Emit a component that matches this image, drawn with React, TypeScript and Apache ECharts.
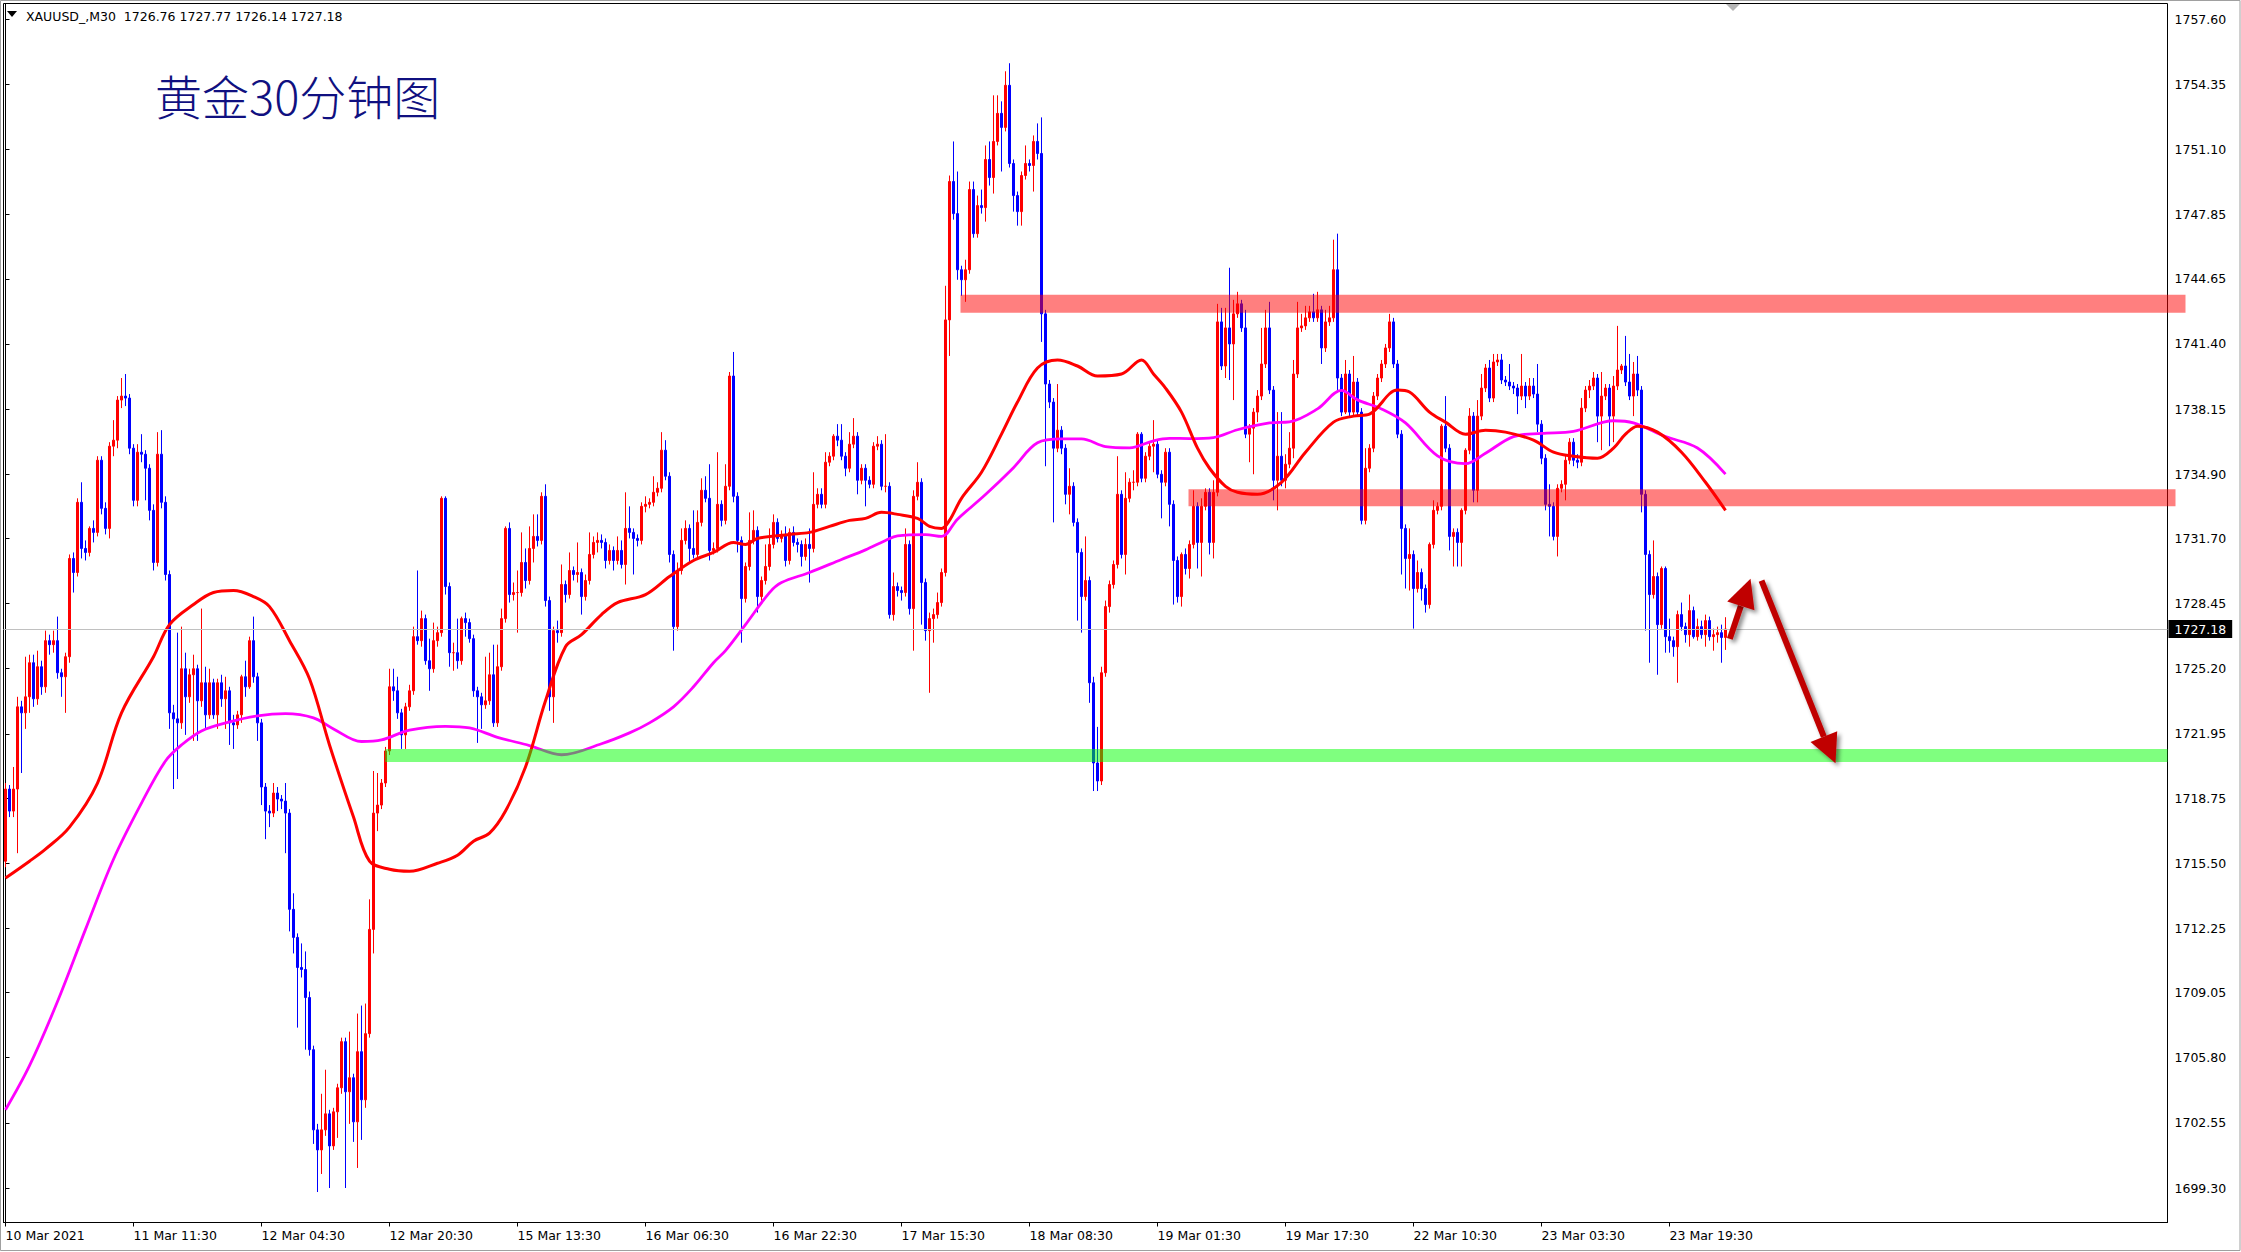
import React, { useEffect, useRef } from "react";
import * as echarts from "echarts";

type Candle = [number, number, number, number]; // open, close, low, high

// 10 Mar 19:30 – 12 Mar 11:30
const candlesA: Candle[] = [
  [1715.6, 1719.2, 1715.3, 1719.5], [1719.2, 1718.1, 1717.8, 1719.4], [1718.1, 1719.2, 1717.8, 1720.3], [1719.2, 1723.3, 1716.0, 1723.8],
  [1723.3, 1723.0, 1720.0, 1723.6], [1723.0, 1723.8, 1722.2, 1725.8], [1723.8, 1725.5, 1723.0, 1725.9], [1725.5, 1723.7, 1723.3, 1725.9],
  [1723.7, 1725.3, 1723.4, 1726.1], [1725.3, 1724.3, 1723.9, 1725.6], [1724.3, 1726.6, 1724.0, 1727.1], [1726.6, 1726.4, 1725.9, 1726.9],
  [1726.4, 1726.6, 1726.0, 1727.1], [1726.6, 1725.0, 1724.7, 1727.8], [1725.0, 1724.8, 1723.8, 1725.2], [1724.8, 1725.8, 1723.0, 1726.0],
  [1725.8, 1730.7, 1725.5, 1730.9], [1730.7, 1730.0, 1729.0, 1731.0], [1730.0, 1733.5, 1729.8, 1733.7], [1733.5, 1731.2, 1730.7, 1734.5],
  [1731.2, 1731.0, 1730.6, 1731.6], [1731.0, 1732.2, 1730.8, 1732.3], [1732.2, 1732.0, 1731.5, 1732.6], [1732.0, 1735.6, 1731.8, 1735.8],
  [1735.6, 1733.2, 1732.9, 1735.8], [1733.2, 1732.2, 1731.9, 1733.5], [1732.2, 1736.3, 1731.7, 1736.5], [1736.3, 1736.6, 1735.8, 1737.6],
  [1736.6, 1738.6, 1736.2, 1738.8], [1738.6, 1738.8, 1738.2, 1739.7], [1738.8, 1738.7, 1738.3, 1739.9], [1738.7, 1736.2, 1735.9, 1738.9],
  [1736.2, 1733.6, 1733.3, 1736.4], [1733.6, 1736.0, 1733.3, 1736.4], [1736.0, 1735.9, 1735.5, 1736.9], [1735.9, 1735.2, 1733.6, 1736.1],
  [1735.2, 1733.1, 1732.6, 1735.4], [1733.1, 1730.5, 1730.1, 1733.4], [1730.5, 1735.9, 1730.3, 1737.0], [1735.9, 1733.5, 1733.2, 1737.1],
  [1733.5, 1729.9, 1729.6, 1733.8], [1729.9, 1723.0, 1722.2, 1730.1], [1723.0, 1722.7, 1719.2, 1723.4], [1722.7, 1722.5, 1719.7, 1727.0],
  [1722.5, 1725.2, 1722.2, 1727.3], [1725.2, 1723.8, 1721.9, 1726.0], [1723.8, 1724.9, 1723.5, 1725.2], [1724.9, 1725.2, 1721.6, 1725.9],
  [1725.2, 1723.6, 1721.6, 1725.4], [1723.6, 1724.5, 1723.3, 1728.2], [1724.5, 1722.9, 1722.2, 1725.3], [1722.9, 1724.5, 1722.7, 1725.2],
  [1724.5, 1722.9, 1722.7, 1724.7], [1722.9, 1724.5, 1722.2, 1724.7], [1724.5, 1723.7, 1723.3, 1724.9], [1723.7, 1724.1, 1722.2, 1724.8],
  [1724.1, 1722.5, 1721.4, 1724.3], [1722.5, 1722.4, 1721.2, 1722.9], [1722.4, 1722.9, 1722.2, 1723.1], [1722.9, 1724.8, 1722.5, 1724.9],
  [1724.8, 1724.3, 1723.8, 1725.6], [1724.3, 1726.6, 1724.2, 1726.8], [1726.6, 1724.8, 1724.5, 1727.8], [1724.8, 1722.5, 1721.6, 1725.0],
  [1722.5, 1719.3, 1718.4, 1722.7], [1719.3, 1718.1, 1716.7, 1719.5], [1718.1, 1718.0, 1717.3, 1718.4], [1718.0, 1719.0, 1717.8, 1719.5],
  [1719.0, 1718.7, 1718.1, 1719.3], [1718.7, 1718.6, 1718.2, 1718.9], [1718.6, 1718.0, 1716.0, 1719.5], [1718.0, 1713.2, 1712.1, 1718.2],
];

// 12 Mar 12:00 – 15 Mar
const candlesB: Candle[] = [
  [1713.2, 1711.8, 1711.0, 1714.0], [1711.8, 1710.3, 1707.3, 1712.0], [1710.3, 1710.2, 1709.8, 1711.5], [1710.2, 1708.8, 1706.2, 1711.1],
  [1708.8, 1706.2, 1705.9, 1709.1], [1706.2, 1702.2, 1701.5, 1706.4], [1702.2, 1701.2, 1699.1, 1702.5], [1701.2, 1702.2, 1700.0, 1704.0],
  [1702.2, 1703.0, 1701.9, 1705.2], [1703.0, 1701.4, 1699.3, 1703.2], [1701.4, 1703.1, 1701.2, 1703.3], [1703.1, 1704.3, 1701.8, 1704.5],
  [1704.3, 1706.6, 1704.0, 1706.8], [1706.6, 1704.1, 1699.3, 1706.8], [1704.1, 1704.8, 1702.5, 1707.1], [1704.8, 1702.6, 1701.6, 1705.0],
  [1702.6, 1706.1, 1700.3, 1708.0], [1706.1, 1703.7, 1701.7, 1708.4], [1703.7, 1707.0, 1703.3, 1708.5], [1707.0, 1712.2, 1706.8, 1713.7],
  [1712.2, 1718.0, 1711.0, 1720.1], [1718.0, 1718.4, 1717.1, 1720.0], [1718.4, 1719.5, 1718.2, 1719.7], [1719.5, 1721.1, 1719.3, 1721.3],
  [1721.1, 1724.3, 1720.9, 1725.2], [1724.3, 1724.1, 1723.6, 1725.2], [1724.1, 1723.0, 1722.7, 1724.8], [1723.0, 1721.9, 1721.2, 1723.2],
  [1721.9, 1723.3, 1721.2, 1723.5], [1723.3, 1724.1, 1723.1, 1724.4], [1724.1, 1726.8, 1723.9, 1727.3], [1726.8, 1726.6, 1726.4, 1730.1],
  [1726.6, 1727.7, 1726.3, 1728.1], [1727.7, 1725.6, 1725.4, 1727.9], [1725.6, 1725.2, 1724.1, 1726.7], [1725.2, 1726.6, 1725.0, 1727.5],
  [1726.6, 1727.0, 1726.3, 1727.3], [1727.0, 1733.7, 1726.8, 1733.8], [1733.7, 1729.3, 1728.9, 1733.8], [1729.3, 1726.0, 1725.3, 1729.5],
  [1726.0, 1726.0, 1725.1, 1726.5], [1726.0, 1725.6, 1725.2, 1727.7], [1725.6, 1727.7, 1725.4, 1727.8], [1727.7, 1727.5, 1726.8, 1728.0],
  [1727.5, 1726.7, 1726.5, 1727.7], [1726.7, 1724.1, 1723.8, 1726.9], [1724.1, 1723.8, 1721.5, 1724.3], [1723.8, 1723.4, 1722.2, 1724.0],
  [1723.4, 1723.6, 1723.2, 1725.8], [1723.6, 1724.9, 1723.4, 1726.0], [1724.9, 1722.5, 1722.3, 1726.4], [1722.5, 1725.3, 1722.3, 1726.4],
  [1725.3, 1727.7, 1725.1, 1728.2], [1727.7, 1732.2, 1727.5, 1732.3], [1732.2, 1728.9, 1728.5, 1732.5], [1728.9, 1729.0, 1728.6, 1729.5],
  [1729.0, 1729.0, 1727.0, 1730.1], [1729.0, 1730.5, 1728.8, 1732.0], [1730.5, 1729.6, 1729.2, 1731.2], [1729.6, 1731.2, 1729.4, 1732.3],
  [1731.2, 1731.8, 1730.5, 1732.9], [1731.8, 1731.6, 1731.3, 1732.9], [1731.6, 1733.8, 1731.4, 1734.0], [1733.8, 1728.6, 1728.3, 1734.4],
  [1728.6, 1723.8, 1723.1, 1728.8], [1723.8, 1727.1, 1722.5, 1727.3], [1727.1, 1727.0, 1726.5, 1727.6], [1727.0, 1729.4, 1726.8, 1730.4],
  [1729.4, 1728.9, 1728.5, 1729.6], [1728.9, 1730.1, 1728.7, 1731.0], [1730.1, 1729.9, 1729.6, 1730.3], [1729.9, 1730.0, 1729.5, 1731.5],
];

// 16 Mar
const candlesC: Candle[] = [
  [1730.0, 1728.8, 1727.9, 1730.2], [1728.8, 1729.6, 1728.6, 1729.9], [1729.6, 1730.9, 1729.4, 1732.0], [1730.9, 1731.5, 1730.7, 1731.8],
  [1731.5, 1731.6, 1731.0, 1732.0], [1731.6, 1731.5, 1731.2, 1731.9], [1731.5, 1730.6, 1730.2, 1731.7], [1730.6, 1731.1, 1730.4, 1731.4],
  [1731.1, 1730.6, 1730.1, 1731.3], [1730.6, 1731.1, 1730.4, 1731.8], [1731.1, 1730.4, 1730.2, 1731.6], [1730.4, 1732.2, 1729.4, 1734.0],
  [1732.2, 1732.0, 1731.7, 1733.3], [1732.0, 1731.7, 1729.9, 1732.2], [1731.7, 1731.6, 1731.3, 1731.9], [1731.6, 1733.3, 1731.4, 1733.5],
  [1733.3, 1733.4, 1733.0, 1733.8], [1733.4, 1733.5, 1733.2, 1733.7], [1733.5, 1734.0, 1733.3, 1734.8], [1734.0, 1734.2, 1733.8, 1734.5],
  [1734.2, 1736.1, 1734.0, 1737.0], [1736.1, 1734.8, 1734.6, 1736.6], [1734.8, 1730.9, 1730.5, 1735.0], [1730.9, 1727.3, 1726.1, 1731.1],
  [1727.3, 1730.1, 1727.1, 1730.5], [1730.1, 1731.6, 1729.9, 1732.2], [1731.6, 1732.2, 1731.4, 1732.6], [1732.2, 1731.2, 1730.5, 1732.4],
  [1731.2, 1730.9, 1730.7, 1733.1], [1730.9, 1732.5, 1730.7, 1733.1], [1732.5, 1734.1, 1732.3, 1734.7], [1734.1, 1733.7, 1733.5, 1734.8],
  [1733.7, 1731.1, 1730.6, 1735.4], [1731.1, 1731.2, 1730.9, 1731.5], [1731.2, 1733.4, 1731.0, 1736.0], [1733.4, 1732.6, 1732.3, 1733.6],
  [1732.6, 1734.3, 1732.4, 1735.4], [1734.3, 1739.8, 1734.1, 1740.0], [1739.8, 1733.8, 1733.5, 1741.0], [1733.8, 1731.6, 1731.0, 1734.0],
  [1731.6, 1728.7, 1726.5, 1731.8], [1728.7, 1730.3, 1728.5, 1730.5], [1730.3, 1731.6, 1730.1, 1733.0], [1731.6, 1732.1, 1731.4, 1733.1],
  [1732.1, 1728.8, 1728.0, 1732.3], [1728.8, 1729.6, 1728.6, 1729.8], [1729.6, 1730.3, 1729.4, 1731.4], [1730.3, 1731.4, 1730.1, 1732.2],
  [1731.4, 1732.5, 1731.2, 1732.9], [1732.5, 1731.7, 1731.5, 1732.7], [1731.7, 1731.9, 1731.5, 1732.1], [1731.9, 1730.6, 1730.3, 1732.3],
  [1730.6, 1732.0, 1730.4, 1732.2], [1732.0, 1731.5, 1731.3, 1732.3], [1731.5, 1731.4, 1731.0, 1731.7], [1731.4, 1730.8, 1730.3, 1731.6],
  [1730.8, 1731.4, 1730.6, 1731.7], [1731.4, 1731.2, 1729.5, 1732.2], [1731.2, 1733.4, 1731.0, 1735.0], [1733.4, 1733.9, 1733.2, 1734.2],
  [1733.9, 1733.4, 1733.2, 1734.2], [1733.4, 1735.5, 1733.2, 1736.0], [1735.5, 1735.8, 1735.3, 1736.0], [1735.8, 1736.8, 1735.6, 1736.9],
  [1736.8, 1736.6, 1736.3, 1737.4], [1736.6, 1735.8, 1735.6, 1737.4], [1735.8, 1735.2, 1734.8, 1736.0], [1735.2, 1736.4, 1735.0, 1737.0],
  [1736.4, 1736.8, 1736.2, 1737.7], [1736.8, 1734.6, 1733.9, 1737.0], [1734.6, 1735.2, 1734.4, 1735.4], [1735.2, 1734.6, 1733.3, 1735.4],
];

// 17 Mar – 18 Mar
const candlesD: Candle[] = [
  [1734.6, 1734.4, 1734.2, 1734.8], [1734.4, 1736.3, 1734.2, 1736.5], [1736.3, 1736.4, 1736.1, 1736.8], [1736.4, 1734.3, 1734.1, 1736.6],
  [1734.3, 1734.3, 1734.0, 1736.9], [1734.3, 1727.9, 1727.7, 1734.5], [1727.9, 1729.3, 1727.6, 1730.0], [1729.3, 1729.1, 1728.8, 1729.5],
  [1729.1, 1729.0, 1728.6, 1729.3], [1729.0, 1731.4, 1728.8, 1732.2], [1731.4, 1728.2, 1727.9, 1731.6], [1728.2, 1733.8, 1726.1, 1734.1],
  [1733.8, 1734.5, 1733.6, 1735.5], [1734.5, 1729.5, 1727.4, 1734.7], [1729.5, 1727.1, 1726.6, 1729.7], [1727.1, 1727.7, 1724.0, 1728.0],
  [1727.7, 1727.9, 1726.5, 1728.2], [1727.9, 1728.5, 1727.7, 1729.0], [1728.5, 1730.0, 1728.3, 1730.2], [1730.0, 1742.6, 1729.8, 1744.3],
  [1742.6, 1749.5, 1740.8, 1749.8], [1749.5, 1747.9, 1747.6, 1751.5], [1747.9, 1745.1, 1744.6, 1750.0], [1745.1, 1744.6, 1743.8, 1745.3],
  [1744.6, 1745.1, 1743.5, 1745.6], [1745.1, 1749.1, 1744.9, 1749.5], [1749.1, 1746.9, 1746.7, 1749.5], [1746.9, 1748.3, 1746.7, 1748.8],
  [1748.3, 1748.2, 1747.9, 1749.1], [1748.2, 1750.6, 1747.5, 1751.3], [1750.6, 1749.7, 1749.3, 1751.5], [1749.7, 1751.5, 1748.9, 1753.8],
  [1751.5, 1752.9, 1751.3, 1753.8], [1752.9, 1752.2, 1750.0, 1753.5], [1752.2, 1754.3, 1752.0, 1755.0], [1754.3, 1750.4, 1750.2, 1755.4],
  [1750.4, 1748.8, 1748.0, 1750.6], [1748.8, 1748.0, 1747.3, 1749.0], [1748.0, 1749.8, 1747.3, 1750.0], [1749.8, 1750.4, 1749.6, 1751.3],
  [1750.4, 1750.3, 1750.0, 1750.6], [1750.3, 1751.5, 1749.0, 1751.8], [1751.5, 1750.9, 1750.6, 1752.4], [1750.9, 1742.9, 1741.5, 1752.7],
  [1742.9, 1739.4, 1735.3, 1743.1], [1739.4, 1738.5, 1738.2, 1739.6], [1738.5, 1736.2, 1732.5, 1738.7], [1736.2, 1737.1, 1736.0, 1739.4],
  [1737.1, 1736.2, 1735.9, 1737.3], [1736.2, 1733.9, 1733.4, 1736.4], [1733.9, 1734.3, 1732.9, 1735.2], [1734.3, 1732.5, 1732.3, 1734.5],
  [1732.5, 1731.0, 1727.6, 1732.7], [1731.0, 1728.8, 1727.0, 1731.2], [1728.8, 1729.6, 1728.6, 1731.8], [1729.6, 1724.5, 1723.5, 1729.8],
  [1724.5, 1720.5, 1719.1, 1724.8], [1720.5, 1719.6, 1719.1, 1722.3], [1719.6, 1725.0, 1719.4, 1725.3], [1725.0, 1728.3, 1724.8, 1728.6],
  [1728.3, 1729.4, 1728.0, 1729.6], [1729.4, 1730.4, 1729.2, 1730.6], [1730.4, 1733.9, 1730.2, 1735.8], [1733.9, 1730.9, 1730.7, 1734.1],
  [1730.9, 1733.7, 1729.9, 1735.0], [1733.7, 1734.5, 1733.5, 1734.7], [1734.5, 1734.5, 1734.1, 1735.1], [1734.5, 1736.9, 1734.3, 1737.0],
  [1736.9, 1734.7, 1734.5, 1737.0], [1734.7, 1735.8, 1734.5, 1736.0], [1735.8, 1736.3, 1735.6, 1736.5], [1736.3, 1736.4, 1735.0, 1737.6],
];

// 19 Mar – 22 Mar
const candlesE: Candle[] = [
  [1736.4, 1734.9, 1734.7, 1736.6], [1734.9, 1734.5, 1732.7, 1735.1], [1734.5, 1736.0, 1734.3, 1736.2], [1736.0, 1733.4, 1732.3, 1736.2],
  [1733.4, 1730.6, 1728.4, 1733.6], [1730.6, 1728.8, 1728.5, 1730.8], [1728.8, 1730.9, 1728.3, 1731.0], [1730.9, 1730.2, 1729.9, 1731.2],
  [1730.2, 1731.4, 1729.7, 1731.6], [1731.4, 1733.3, 1731.2, 1734.1], [1733.3, 1731.5, 1730.2, 1733.5], [1731.5, 1733.3, 1729.8, 1733.7],
  [1733.3, 1734.0, 1733.1, 1734.2], [1734.0, 1731.5, 1730.9, 1734.2], [1731.5, 1734.0, 1730.7, 1734.6], [1734.0, 1742.5, 1733.8, 1743.4],
  [1742.5, 1740.3, 1740.1, 1743.2], [1740.3, 1742.2, 1739.7, 1743.2], [1742.2, 1741.4, 1739.6, 1745.2], [1741.4, 1742.9, 1738.6, 1743.6],
  [1742.9, 1743.4, 1742.7, 1744.0], [1743.4, 1742.2, 1742.0, 1743.6], [1742.2, 1736.9, 1736.7, 1743.1], [1736.9, 1737.2, 1735.5, 1737.4],
  [1737.2, 1738.0, 1734.9, 1738.2], [1738.0, 1738.8, 1737.5, 1739.1], [1738.8, 1740.4, 1738.6, 1742.2], [1740.4, 1742.2, 1740.2, 1743.1],
  [1742.2, 1739.1, 1738.9, 1743.5], [1739.1, 1734.6, 1733.6, 1739.3], [1734.6, 1735.8, 1733.1, 1738.0], [1735.8, 1734.6, 1734.3, 1738.0],
  [1734.6, 1735.4, 1734.2, 1735.9], [1735.4, 1736.2, 1735.2, 1737.0], [1736.2, 1739.9, 1735.7, 1740.6], [1739.9, 1742.2, 1739.7, 1743.5],
  [1742.2, 1742.3, 1742.0, 1742.9], [1742.3, 1742.7, 1742.1, 1743.3], [1742.7, 1743.0, 1742.5, 1743.3], [1743.0, 1742.7, 1742.5, 1743.9],
  [1742.7, 1743.1, 1742.5, 1744.0], [1743.1, 1741.2, 1740.4, 1743.3], [1741.2, 1742.5, 1741.0, 1743.1], [1742.5, 1742.7, 1742.3, 1743.3],
  [1742.7, 1745.1, 1742.5, 1746.6], [1745.1, 1739.7, 1739.1, 1746.9], [1739.7, 1738.0, 1737.8, 1739.9], [1738.0, 1739.9, 1737.9, 1740.6],
  [1739.9, 1738.0, 1737.8, 1740.1], [1738.0, 1739.5, 1737.8, 1740.8], [1739.5, 1738.0, 1737.8, 1739.7], [1738.0, 1732.6, 1732.4, 1738.2],
  [1732.6, 1735.2, 1732.4, 1736.2], [1735.2, 1736.2, 1735.0, 1736.4], [1736.2, 1738.8, 1736.0, 1739.0], [1738.8, 1739.7, 1738.6, 1739.9],
  [1739.7, 1740.4, 1739.5, 1740.6], [1740.4, 1741.2, 1740.2, 1741.4], [1741.2, 1742.5, 1741.0, 1742.9], [1742.5, 1740.4, 1740.2, 1742.7],
  [1740.4, 1736.9, 1736.7, 1740.6], [1736.9, 1732.2, 1729.9, 1737.1], [1732.2, 1730.7, 1729.2, 1732.4], [1730.7, 1730.9, 1729.1, 1732.2],
  [1730.9, 1729.2, 1727.2, 1731.1], [1729.2, 1730.0, 1729.0, 1730.6], [1730.0, 1729.2, 1728.6, 1730.2], [1729.2, 1728.4, 1728.0, 1729.4],
  [1728.4, 1731.4, 1728.2, 1731.5], [1731.4, 1733.1, 1731.2, 1733.6], [1733.1, 1733.3, 1732.9, 1733.5], [1733.3, 1737.3, 1733.1, 1737.4],
];

// 22 Mar – 24 Mar 02:00
const candlesF: Candle[] = [
  [1737.3, 1736.2, 1736.0, 1738.8], [1736.2, 1731.8, 1731.1, 1736.4], [1731.8, 1732.0, 1730.3, 1732.2], [1732.0, 1731.5, 1730.3, 1732.2],
  [1731.5, 1733.1, 1730.3, 1733.2], [1733.1, 1736.1, 1732.9, 1736.2], [1736.1, 1737.8, 1735.9, 1738.2], [1737.8, 1734.1, 1733.5, 1738.0],
  [1734.1, 1737.8, 1733.5, 1738.6], [1737.8, 1739.2, 1737.6, 1739.9], [1739.2, 1740.2, 1739.0, 1740.4], [1740.2, 1738.7, 1738.5, 1740.6],
  [1738.7, 1740.5, 1738.5, 1740.9], [1740.5, 1740.6, 1740.3, 1740.9], [1740.6, 1739.6, 1739.4, 1740.9], [1739.6, 1739.5, 1739.3, 1739.8],
  [1739.5, 1739.3, 1739.1, 1740.4], [1739.3, 1739.2, 1738.9, 1739.5], [1739.2, 1738.8, 1737.9, 1739.4], [1738.8, 1739.3, 1738.6, 1740.9],
  [1739.3, 1738.8, 1738.2, 1739.5], [1738.8, 1739.3, 1738.6, 1739.7], [1739.3, 1738.9, 1738.7, 1739.7], [1738.9, 1737.4, 1737.0, 1740.4],
  [1737.4, 1735.7, 1735.4, 1737.6], [1735.7, 1733.4, 1733.1, 1735.9], [1733.4, 1733.3, 1731.8, 1734.4], [1733.3, 1731.8, 1731.6, 1733.5],
  [1731.8, 1734.2, 1730.8, 1734.4], [1734.2, 1734.4, 1734.0, 1734.6], [1734.4, 1735.6, 1733.6, 1735.9], [1735.6, 1736.5, 1735.4, 1736.7],
  [1736.5, 1735.6, 1735.3, 1736.7], [1735.6, 1735.5, 1735.2, 1735.9], [1735.5, 1738.2, 1735.3, 1738.7], [1738.2, 1739.1, 1738.0, 1739.3],
  [1739.1, 1739.3, 1738.7, 1739.6], [1739.3, 1739.7, 1739.1, 1740.0], [1739.7, 1737.8, 1736.5, 1739.9], [1737.8, 1738.8, 1736.1, 1740.0],
  [1738.8, 1739.2, 1738.6, 1739.4], [1739.2, 1737.8, 1736.3, 1739.4], [1737.8, 1739.3, 1736.5, 1739.8], [1739.3, 1740.1, 1739.1, 1742.3],
  [1740.1, 1740.3, 1739.9, 1740.4], [1740.3, 1739.5, 1739.3, 1741.8], [1739.5, 1738.8, 1738.6, 1740.9], [1738.8, 1739.9, 1737.8, 1740.5],
  [1739.9, 1739.1, 1738.8, 1740.8], [1739.1, 1733.9, 1733.0, 1739.3], [1733.9, 1730.9, 1727.1, 1734.1], [1730.9, 1728.9, 1725.5, 1731.1],
  [1728.9, 1729.8, 1728.7, 1731.6], [1729.8, 1727.4, 1724.9, 1730.0], [1727.4, 1730.2, 1727.2, 1730.3], [1730.2, 1726.8, 1726.0, 1730.3],
  [1726.8, 1726.6, 1726.0, 1727.7], [1726.6, 1726.3, 1725.8, 1726.8], [1726.3, 1727.9, 1724.5, 1728.1], [1727.9, 1727.3, 1727.1, 1728.5],
  [1727.3, 1726.9, 1726.5, 1727.5], [1726.9, 1728.1, 1726.3, 1728.9], [1728.1, 1726.8, 1726.7, 1728.3], [1726.8, 1727.3, 1726.6, 1727.7],
  [1727.3, 1726.9, 1726.7, 1727.6], [1726.9, 1727.6, 1726.3, 1727.9], [1727.6, 1726.8, 1726.6, 1727.8], [1726.8, 1726.9, 1726.1, 1727.2],
  [1726.9, 1727.0, 1726.5, 1727.3], [1727.0, 1726.76, 1725.5, 1727.4], [1726.76, 1727.18, 1726.14, 1727.77],
];

// red (fast) moving average, [bar index, price]
const fastMA: [number, number][] = [
  [0, 1714.76], [6, 1715.6], [10, 1716.2], [16, 1717.3], [23, 1719.5], [29, 1723.0], [37, 1725.8], [41, 1727.4], [47, 1728.4],
  [52, 1729.0], [57, 1729.1], [62, 1728.8], [66, 1728.3], [71, 1726.6], [76, 1724.7], [81, 1721.4], [87, 1717.8], [91, 1715.6],
  [96, 1715.2], [101, 1715.1], [108, 1715.5], [113, 1715.9], [117, 1716.6], [121, 1717.0], [125, 1718.1], [130, 1720.3],
  [135, 1723.6], [140, 1726.3], [144, 1726.9], [149, 1727.9], [153, 1728.5], [160, 1728.9], [166, 1729.8], [172, 1730.6],
  [177, 1731.0], [182, 1731.5], [185, 1731.4], [188, 1731.7], [196, 1731.9], [201, 1732.0], [206, 1732.3], [211, 1732.6],
  [215, 1732.7], [219, 1733.0], [223, 1732.9], [228, 1732.7], [231, 1732.3], [234, 1732.2], [236, 1732.6], [239, 1733.7],
  [244, 1735.0], [249, 1736.9], [253, 1738.5], [258, 1740.2], [263, 1740.6], [268, 1740.3], [273, 1739.8], [279, 1739.9],
  [284, 1740.6], [287, 1739.9], [290, 1739.2], [294, 1738.0], [298, 1736.2], [301, 1735.2], [305, 1734.3], [308, 1734.0],
  [313, 1733.9], [319, 1734.5], [325, 1736.0], [332, 1737.5], [337, 1737.8], [341, 1737.9], [348, 1739.1], [351, 1739.0],
  [356, 1738.0], [360, 1737.5], [365, 1736.9], [370, 1737.1], [375, 1737.0], [382, 1736.6], [387, 1736.0], [392, 1735.8],
  [398, 1735.7], [402, 1736.2], [405, 1736.9], [408, 1737.3], [413, 1737.0], [419, 1736.0], [425, 1734.5], [430, 1733.1],
];

// magenta (slow) moving average, [bar index, price]
const slowMA: [number, number][] = [
  [0, 1703.2], [6, 1705.4], [13, 1708.6], [20, 1712.2], [27, 1715.7], [34, 1718.5], [40, 1720.6], [44, 1721.4], [49, 1722.1],
  [56, 1722.55], [63, 1722.85], [70, 1722.96], [77, 1722.75], [82, 1722.2], [89, 1721.57], [94, 1721.65], [101, 1722.14],
  [110, 1722.33], [116, 1722.25], [123, 1721.78], [131, 1721.37], [139, 1720.91], [149, 1721.46], [156, 1722.0], [161, 1722.5],
  [167, 1723.3], [172, 1724.3], [177, 1725.5], [180, 1726.1], [185, 1727.4], [191, 1729.0], [194, 1729.5], [201, 1730.0],
  [209, 1730.65], [215, 1731.13], [220, 1731.6], [223, 1731.83], [230, 1731.89], [234, 1731.8], [238, 1732.66], [245, 1733.89],
  [252, 1735.23], [258, 1736.47], [264, 1736.66], [269, 1736.66], [275, 1736.28], [281, 1736.22], [287, 1736.57], [291, 1736.69],
  [296, 1736.68], [302, 1736.73], [308, 1737.12], [316, 1737.46], [321, 1737.51], [328, 1738.16], [334, 1739.08], [338, 1738.61],
  [344, 1738.16], [350, 1737.46], [358, 1735.82], [365, 1735.43], [370, 1735.95], [377, 1736.78], [384, 1736.94], [392, 1737.04],
  [402, 1737.57], [407, 1737.46], [415, 1736.78], [423, 1736.21], [430, 1734.91],
];

const xTickLabels = [
  "10 Mar 2021", "11 Mar 11:30", "12 Mar 04:30", "12 Mar 20:30", "15 Mar 13:30", "16 Mar 06:30", "16 Mar 22:30",
  "17 Mar 15:30", "18 Mar 08:30", "19 Mar 01:30", "19 Mar 17:30", "22 Mar 10:30", "23 Mar 03:30", "23 Mar 19:30",
];
const BARS_PER_LABEL = 32;
const SLOT_COUNT = 541; // bars + empty chart shift space

const yTicks = [
  1699.3, 1702.55, 1705.8, 1709.05, 1712.25, 1715.5, 1718.75, 1721.95, 1725.2, 1728.45,
  1731.7, 1734.9, 1738.15, 1741.4, 1744.65, 1747.85, 1751.1, 1754.35, 1757.6,
];
const Y_MIN = 1697.58;
const Y_MAX = 1758.38;

const lastPrice = 1727.18;
const headerText = "XAUUSD_,M30  1726.76 1727.77 1726.14 1727.18";
const titleText = "黄金30分钟图";

// zones: [from bar, to bar, low price, high price]
const upperResistance = [238.75, 545, 1742.95, 1743.85];
const lowerResistance = [295.75, 542.5, 1733.3, 1734.15];
const supportZone = [94.9, 540.5, 1720.55, 1721.2];

// arrows: tail, shaft end, head polygon ([bar index, price])
const upArrow = {
  tail: [431.08, 1726.69], shaftEnd: [433.83, 1728.33],
  head: [[430.43, 1728.55], [436.25, 1729.69], [437.25, 1728.12]],
};
const downArrow = {
  tail: [439.0, 1729.6], shaftEnd: [454.58, 1721.81],
  head: [[451.25, 1721.54], [457.93, 1722.08], [457.5, 1720.49]],
};

const FONT = "DejaVu Sans";

export default function App() {
  const ref = useRef<HTMLDivElement>(null);

  useEffect(() => {
    document.body.style.margin = "0";
    if (!ref.current) return;
    const chart = echarts.init(ref.current, null, { renderer: "svg" });
    const candles = [...candlesA, ...candlesB, ...candlesC, ...candlesD, ...candlesE, ...candlesF];
    const categories = Array.from({ length: SLOT_COUNT }, (_, i) => String(i));
    const showTick = (index: number) =>
      index % BARS_PER_LABEL === 0 && index / BARS_PER_LABEL < xTickLabels.length;

    chart.setOption({
      animation: false,
      backgroundColor: "#ffffff",
      grid: {
        left: 3.5, top: 3.5, width: 2164, height: 1219,
        show: true, borderColor: "#000000", borderWidth: 1, backgroundColor: "transparent",
      },
      xAxis: [
        {
          type: "category",
          data: categories,
          boundaryGap: true,
          axisLine: { show: true, lineStyle: { color: "#000", width: 1 } },
          axisTick: { show: true, alignWithLabel: true, interval: showTick, length: 4, lineStyle: { color: "#000" } },
          axisLabel: {
            show: true, interval: showTick, align: "left", margin: 6,
            formatter: (_v: string, idx: number) => xTickLabels[idx / BARS_PER_LABEL] ?? "",
            color: "#000", fontSize: 12.5, fontFamily: FONT,
          },
          splitLine: { show: false },
        },
        { type: "value", min: -0.5, max: SLOT_COUNT - 0.5, show: false },
      ],
      yAxis: [
        {
          type: "value",
          position: "right",
          min: Y_MIN,
          max: Y_MAX,
          axisLine: { show: true, lineStyle: { color: "#000", width: 1 } },
          axisTick: { show: true, length: 4, customValues: yTicks, lineStyle: { color: "#000" } },
          axisLabel: {
            show: true, customValues: yTicks, margin: 7,
            formatter: (v: number) => v.toFixed(2),
            color: "#000", fontSize: 12.5, fontFamily: FONT,
          },
          splitLine: { show: false },
        },
      ],
      series: [
        {
          type: "candlestick",
          xAxisIndex: 0,
          yAxisIndex: 0,
          data: candles,
          barWidth: 2,
          itemStyle: {
            color: "#ff0000", color0: "#0000ff",
            borderColor: "#ff0000", borderColor0: "#0000ff", borderWidth: 1,
          },
          emphasis: { disabled: true },
          markLine: {
            silent: true,
            symbol: ["none", "none"],
            animation: false,
            lineStyle: { color: "#c0c0c0", width: 1, type: "solid" },
            label: {
              show: true, position: "end", distance: 1,
              formatter: lastPrice.toFixed(2),
              color: "#ffffff", backgroundColor: "#000000", padding: [3, 6, 2, 6],
              fontSize: 12.5, fontFamily: FONT,
            },
            emphasis: { disabled: true },
            data: [{ yAxis: lastPrice }],
          },
        },
        {
          type: "line",
          xAxisIndex: 1,
          yAxisIndex: 0,
          data: slowMA,
          smooth: 0.35,
          showSymbol: false,
          lineStyle: { color: "#ff00ff", width: 2.8 },
          emphasis: { disabled: true },
        },
        {
          type: "line",
          xAxisIndex: 1,
          yAxisIndex: 0,
          data: fastMA,
          smooth: 0.35,
          showSymbol: false,
          lineStyle: { color: "#ff0000", width: 3 },
          emphasis: { disabled: true },
        },
      ],
    });

    const P = (i: number, p: number) =>
      chart.convertToPixel({ xAxisIndex: 1, yAxisIndex: 0 } as any, [i, p]) as number[];

    const zoneRect = (z: number[], fill: string) => {
      const a = P(z[0], z[3]);
      const b = P(z[1], z[2]);
      return {
        type: "rect", z: 50, silent: true,
        shape: { x: a[0], y: a[1], width: b[0] - a[0], height: b[1] - a[1] },
        style: { fill },
      };
    };

    const shadow = { shadowBlur: 4, shadowColor: "rgba(0,0,0,0.45)", shadowOffsetX: 3, shadowOffsetY: 3 };
    const arrow = (a: typeof upArrow) => {
      const t = P(a.tail[0], a.tail[1]);
      const e = P(a.shaftEnd[0], a.shaftEnd[1]);
      return [
        {
          type: "line", z: 60, silent: true,
          shape: { x1: t[0], y1: t[1], x2: e[0], y2: e[1] },
          style: { stroke: "#c00000", lineWidth: 6, lineCap: "butt", ...shadow },
        },
        {
          type: "polygon", z: 61, silent: true,
          shape: { points: a.head.map((h) => P(h[0], h[1])) },
          style: { fill: "#c00000", ...shadow },
        },
      ];
    };

    chart.setOption({
      graphic: [
        zoneRect(upperResistance, "rgba(255,0,0,0.5)"),
        zoneRect(lowerResistance, "rgba(255,0,0,0.5)"),
        zoneRect(supportZone, "rgba(0,255,0,0.5)"),
        ...arrow(upArrow),
        ...arrow(downArrow),
        {
          type: "rect", z: 70, silent: true,
          shape: { x: 0.5, y: 0.5, width: 2239.5, height: 1250 },
          style: { fill: "none", stroke: "#a0a0a0", lineWidth: 1 },
        },
        {
          type: "polygon", z: 70, silent: true,
          shape: { points: [[7, 11], [17, 11], [12, 17]] },
          style: { fill: "#000" },
        },
        {
          type: "text", z: 70, silent: true, x: 26, y: 16,
          style: { text: headerText, fill: "#000", font: `12.5px "${FONT}"`, verticalAlign: "middle" },
        },
        {
          type: "text", z: 70, silent: true, x: 155, y: 94,
          style: {
            text: titleText, fill: "#101080", font: `300 47px "Noto Sans CJK SC"`, verticalAlign: "middle",
          },
        },
        {
          type: "polygon", z: 70, silent: true,
          shape: { points: [[1726, 4], [1740, 4], [1733, 11]] },
          style: { fill: "#b4b4b4" },
        },
      ],
    });

    return () => chart.dispose();
  }, []);

  return <div ref={ref} style={{ width: 2241, height: 1252 }} />;
}
